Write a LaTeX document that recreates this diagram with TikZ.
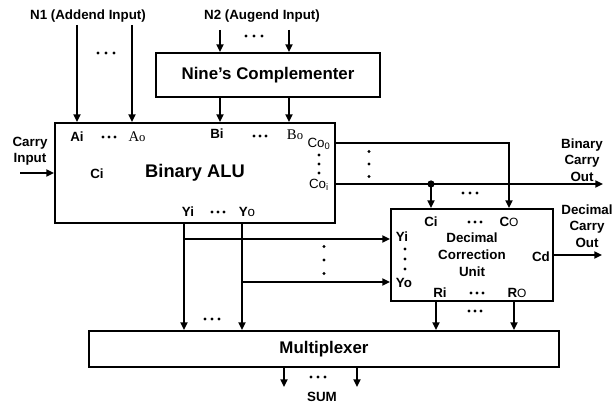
\documentclass[tikz,border=0pt]{standalone}
\usepackage{fontspec}
\setmainfont{Liberation Sans}
\newfontfamily\serifport{Liberation Serif}
\usetikzlibrary{arrows.meta}

\begin{document}
\begin{tikzpicture}[x=0.025cm, y=-0.025cm,
    blk/.style={draw, line width=1.3pt, inner sep=0pt, align=center},
    sig/.style={line width=1.25pt, -{Triangle[length=5.5pt, width=5pt]}},
    lbl/.style={font=\bfseries\fontsize{9.5}{11.7}\selectfont, align=center, inner sep=0pt},
    port/.style={font=\bfseries\fontsize{9.5}{11}\selectfont, inner sep=0pt},
    thinport/.style={font=\fontsize{9.5}{11}\selectfont, inner sep=0pt}]
    \useasboundingbox (0,0) rectangle (614,406);

    % blocks
    \node[blk, minimum width=7cm, minimum height=2.5cm, font=\bfseries\fontsize{13}{15}\selectfont] (alu) at (195,173) {Binary ALU};
    \node[blk, minimum width=5.6cm, minimum height=1.1cm, font=\bfseries\fontsize{12}{14}\selectfont] (comp) at (268,75) {Nine's Complementer};
    \node[blk, minimum width=4.05cm, minimum height=2.3cm, font=\bfseries\fontsize{9.5}{12}\selectfont] (dcu) at (472,255) {Decimal\\Correction\\Unit};
    \node[blk, minimum width=11.75cm, minimum height=0.9cm, font=\bfseries\fontsize{12}{14}\selectfont] (mux) at (324,349) {Multiplexer};

    % outside labels
    \node[lbl] (n1) at (88,16) {N1 (Addend Input)};
    \node[lbl] (n2) at (262,16) {N2 (Augend Input)};
    \node[lbl] (cinlbl) at (30,151) {Carry\\Input};
    \node[lbl] (bcolbl) at (582,160) {Binary\\Carry\\Out};
    \node[lbl] (dcolbl) at (587,226) {Decimal\\Carry\\Out};
    \node[lbl] (sum) at (322,397) {SUM};

    % ALU ports
    \node[port] (ai) at (77,137) {Ai};
    \node[thinport, font=\serifport\fontsize{10.5}{12}\selectfont] (ao) at (137,137) {A{\fontsize{9}{10}\selectfont o}};
    \node[port] (bi) at (217,134) {Bi};
    \node[thinport, font=\serifport\fontsize{10.5}{12}\selectfont] (bo) at (295,135) {B{\fontsize{9}{10}\selectfont o}};
    \node[thinport] (co0) at (319,144) {Co\textsubscript{0}};
    \node[thinport] (coi) at (319,185) {Co\textsubscript{i}};
    \node[port] (ci) at (97,174) {Ci};
    \node[port] (yi) at (188,212) {Yi};
    \node[port] (yo) at (247,212) {Y{\mdseries o}};

    % DCU ports
    \node[port] (dci) at (431,222) {Ci};
    \node[port] (dco) at (509,222) {C{\mdseries\fontsize{8.5}{10}\selectfont O}};
    \node[port] (dyi) at (402,237) {Yi};
    \node[port] (dyo) at (404,283) {Yo};
    \node[port] (cd) at (541,257) {Cd};
    \node[port] (dri) at (440,293) {Ri};
    \node[port] (dro) at (517,293) {R{\mdseries\fontsize{8.5}{10}\selectfont O}};

    % free ends
    \coordinate (a1) at (77,25);
    \coordinate (a2) at (132,25);
    \coordinate (b1) at (220,30);
    \coordinate (b2) at (289,30);
    \coordinate (cin) at (20,173);
    \coordinate (cout0) at (400,143);
    \coordinate (bout) at (603,184);
    \coordinate (jn) at (431,184);
    \coordinate (dout) at (602,255);
    \coordinate (yiw) at (184,239);
    \coordinate (yow) at (242,282);
    \coordinate (r1) at (436,301);
    \coordinate (r2) at (514,301);
    \coordinate (s1) at (284,387);
    \coordinate (s2) at (357,387);

    % inputs
    \foreach \a in {a1,a2}
        \draw[sig] (\a) -- (\a |- alu.north);
    \foreach \b in {b1,b2} {
        \draw[sig] (\b) -- (\b |- comp.north);
        \draw[sig] (\b |- comp.south) -- (\b |- alu.north);
    }
    \draw[sig] (cin) -- (cin -| alu.west);

    % carries
    \draw[sig] (cout0 -| alu.east) -| (dco |- dcu.north);
    \draw[sig] (bout -| alu.east) -- (bout);
    \fill (jn) circle (3.6);
    \draw[sig] (jn) -- (jn |- dcu.north);
    \draw[sig] (dout -| dcu.east) -- (dout);

    % results
    \draw[sig] (yiw |- alu.south) -- (yiw |- mux.north);
    \draw[sig] (yow |- alu.south) -- (yow |- mux.north);
    \draw[sig] (yiw) -- (yiw -| dcu.west);
    \draw[sig] (yow) -- (yow -| dcu.west);
    \foreach \r in {r1,r2}
        \draw[sig] (\r) -- (\r |- mux.north);
    \foreach \s in {s1,s2}
        \draw[sig] (\s |- mux.south) -- (\s);

    % dots
    \foreach \x/\y/\d in {106/53/8, 254/36/8, 109/137/6, 260/136/6, 218/212/6, 470/193/7,
                          475/222/6, 477/293/6, 475/311/6, 212/319/7, 318/377/7}
        \foreach \k in {-1,0,1}
            \fill (\x+\k*\d,\y) circle (1.7);
    \foreach \x/\y/\d in {319/164/9, 369/164/12.5, 405/259/10, 324/260/13.5}
        \foreach \k in {-1,0,1}
            \fill (\x,\y+\k*\d) circle (1.6);
\end{tikzpicture}
\end{document}
